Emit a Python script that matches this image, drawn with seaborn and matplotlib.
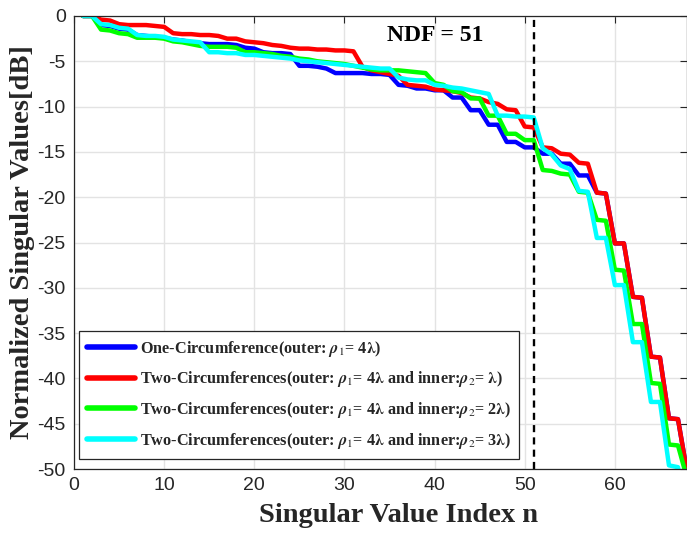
import numpy as np
import pandas as pd
import matplotlib
matplotlib.use("Agg")
import matplotlib.pyplot as plt
import seaborn as sns

# ---------------- data ----------------
n_index = list(range(1, 69))

one_circ = [0, 0, -1.0, -1.1, -1.4, -1.5, -2.1, -2.2, -2.3, -2.4,
            -2.6, -2.7, -2.9, -3.0, -3.1, -3.1, -3.1, -3.2, -3.5, -3.6,
            -4.0, -4.1, -4.1, -4.2, -5.5, -5.5, -5.6, -5.8, -6.3, -6.3,
            -6.3, -6.3, -6.4, -6.4, -6.5, -7.6, -7.7, -8.0, -8.0, -8.2,
            -8.2, -9.0, -9.0, -10.4, -10.4, -12.0, -12.0, -13.9, -13.9, -14.5,
            -14.5, -15.2, -15.2, -16.3, -16.3, -17.6, -17.6, -19.5, -19.6, -25.1,
            -25.1, -31.0, -31.1, -37.6, -37.7, -44.4, -44.5, -50.3]

two_circ_l1 = [0, 0, -0.4, -0.5, -0.9, -1.0, -1.0, -1.0, -1.1, -1.2,
               -1.9, -2.0, -2.0, -2.1, -2.1, -2.2, -2.5, -2.5, -2.8, -2.9,
               -3.0, -3.2, -3.3, -3.5, -3.6, -3.6, -3.7, -3.7, -3.8, -3.8,
               -3.9, -5.6, -6.0, -6.2, -6.4, -6.6, -7.6, -7.7, -7.8, -8.1,
               -8.2, -8.3, -8.5, -9.0, -9.1, -9.5, -9.7, -10.3, -10.4, -12.2,
               -12.3, -14.5, -14.6, -15.2, -15.3, -16.2, -16.3, -19.5, -19.6, -25.1,
               -25.1, -31.0, -31.1, -37.6, -37.7, -44.4, -44.5, -50.3]

two_circ_l2 = [0, 0, -1.5, -1.6, -1.9, -2.0, -2.4, -2.4, -2.4, -2.5,
               -2.8, -2.9, -3.1, -3.3, -3.4, -3.4, -3.4, -3.5, -4.0, -4.0,
               -4.1, -4.2, -4.4, -4.5, -4.7, -4.8, -5.0, -5.1, -5.2, -5.3,
               -5.5, -5.7, -5.9, -6.0, -6.0, -6.0, -6.1, -6.2, -6.3, -7.4,
               -7.6, -8.3, -8.4, -9.1, -9.1, -11.0, -11.0, -13.0, -13.0, -13.7,
               -13.7, -17.0, -17.1, -17.4, -17.5, -19.4, -19.5, -22.5, -22.6, -28.0,
               -28.1, -34.0, -34.0, -40.5, -40.6, -47.3, -47.4, -51.0]

two_circ_l3 = [0, 0, -0.9, -1.0, -1.3, -1.4, -2.1, -2.2, -2.2, -2.3,
               -2.6, -2.7, -2.8, -2.9, -4.0, -4.0, -4.1, -4.1, -4.3, -4.3,
               -4.4, -4.5, -4.6, -4.7, -4.9, -5.0, -5.1, -5.2, -5.3, -5.4,
               -5.5, -5.6, -5.7, -5.8, -5.8, -6.8, -7.0, -7.1, -7.1, -7.6,
               -7.7, -7.9, -8.0, -8.2, -8.4, -8.6, -11.0, -11.0, -11.1, -11.1,
               -11.2, -14.6, -15.3, -16.5, -16.9, -19.3, -19.4, -24.5, -24.5, -29.7,
               -29.7, -36.0, -36.0, -42.6, -42.6, -49.6, -49.8, -55.0]

labels = [
    r"One-Circumference(outer: $\boldsymbol{\rho}_1$= 4$\boldsymbol{\lambda}$)",
    r"Two-Circumferences(outer: $\boldsymbol{\rho}_1$= 4$\boldsymbol{\lambda}$ and inner:$\boldsymbol{\rho}_2$= $\boldsymbol{\lambda}$)",
    r"Two-Circumferences(outer: $\boldsymbol{\rho}_1$= 4$\boldsymbol{\lambda}$ and inner:$\boldsymbol{\rho}_2$= 2$\boldsymbol{\lambda}$)",
    r"Two-Circumferences(outer: $\boldsymbol{\rho}_1$= 4$\boldsymbol{\lambda}$ and inner:$\boldsymbol{\rho}_2$= 3$\boldsymbol{\lambda}$)",
]
colors = ["#0000ff", "#ff0000", "#00ff00", "#00ffff"]
ndf = 51
x_ticks = [0, 10, 20, 30, 40, 50, 60]
y_ticks = [0, -5, -10, -15, -20, -25, -30, -35, -40, -45, -50]

# ---------------- build long table ----------------
frames = []
for lab, vals in zip(labels, [one_circ, two_circ_l1, two_circ_l2, two_circ_l3]):
    frames.append(pd.DataFrame({"n": n_index, "dB": vals, "series": lab}))
df = pd.concat(frames, ignore_index=True)

sns.set_style("white")
plt.rcParams["mathtext.fontset"] = "stix"
plt.rcParams["font.family"] = ["Liberation Sans", "DejaVu Sans"]

W, H = 687, 534
fig = plt.figure(figsize=(W / 100, H / 100), dpi=100)
ax = fig.add_axes([74 / W, 1 - 469 / H, (W - 74) / W, (469 - 16) / H])

sns.lineplot(data=df, x="n", y="dB", hue="series", hue_order=labels,
             palette=colors, linewidth=3.2, ax=ax, legend=True)

ax.axvline(ndf, color="black", linewidth=1.7, linestyle=(0, (3.0, 2.2)))
ax.text(40.1, -2.1, "NDF = 51", ha="center", va="center", fontsize=17,
        fontweight="bold", family="Liberation Serif", color="black")

ax.set_xlim(0, 68)
ax.set_ylim(-50, 0)
ax.set_xticks(x_ticks)
ax.set_yticks(y_ticks)
ax.set_xticklabels([str(t) for t in x_ticks])
ax.set_yticklabels([str(t) for t in y_ticks])
ax.grid(True, color="#e3e3e3", linewidth=1.0)
ax.tick_params(direction="in", length=5, width=0.8, top=True, right=True,
               labelsize=14, colors="#262626", pad=6)
for sp in ax.spines.values():
    sp.set_color("#262626")
    sp.set_linewidth(0.9)

ax.set_xlabel("Singular Value Index n", fontsize=20.5, fontweight="bold",
              family="Liberation Serif", color="#262626")
ax.set_ylabel("Normalized Singular Values[dB]", fontsize=20.5, fontweight="bold",
              family="Liberation Serif", color="#262626")
ax.xaxis.set_label_coords(0.530, -0.075)
ax.yaxis.set_label_coords(-0.064, 0.5)

handles, labs = ax.get_legend_handles_labels()
leg = ax.legend(handles, labs, loc="lower left", bbox_to_anchor=(0.008, 0.022),
                borderaxespad=0, frameon=True, fancybox=False, framealpha=1,
                edgecolor="#262626", handlelength=2.95, handletextpad=0.3,
                labelspacing=0.66, borderpad=0.5,
                prop={"family": "Liberation Serif", "weight": "bold", "size": 11.7})
leg.get_frame().set_linewidth(0.9)
for line in leg.get_lines():
    line.set_linewidth(4)

fig.savefig("out.png", dpi=100)
